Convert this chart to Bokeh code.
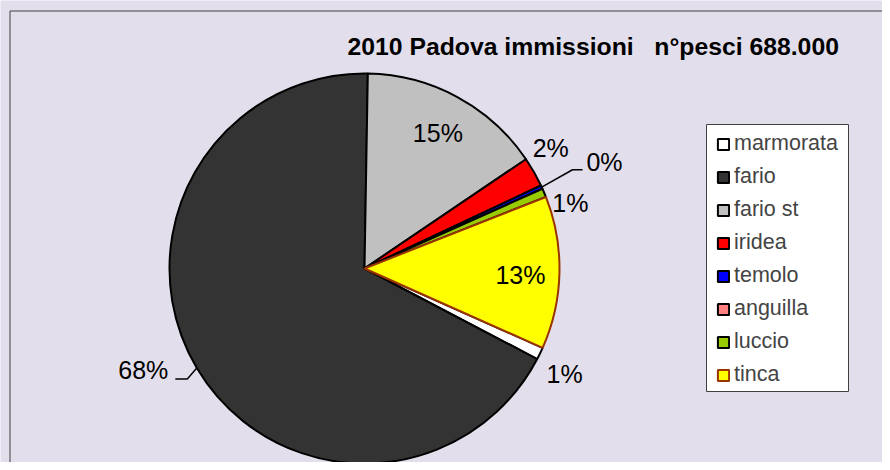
import math
from bokeh.plotting import figure
from bokeh.models import Range1d, Legend, LegendItem, Label, BoxAnnotation
from bokeh.embed import file_html
from bokeh.resources import INLINE

# ---- data ----
species = ["marmorata", "fario", "fario st", "iridea", "temolo", "anguilla", "luccio", "tinca"]
counts = [7000, 465000, 105000, 17000, 2000, 0, 5000, 87000]
title_text = "2010 Padova immissioni\u00a0\u00a0\u00a0n°pesci 688.000"

# ---- style ----
fill_colors = ["#FFFFFF", "#333333", "#C0C0C0", "#FF0000", "#0000FF", "#FF8080", "#99CC00", "#FFFF00"]
line_colors = ["#000000"] * 7 + ["#993300"]
FIRST_SLICE_DEG = 114.0  # clockwise from 12 o'clock
BG = "#E3DEEB"
FONT = "Liberation Sans"

# label placement: (radius factor, nudge x px, nudge y px (down))
label_style = {
    "marmorata": (1.14, 0, 9),
    "fario": (1.14, -30, -12),
    "fario st": (0.79, 0, 0),
    "iridea": (1.14, -7, -11),
    "temolo": (1.14, 38, -14),
    "luccio": (1.14, 1, 21),
    "tinca": (0.80, 0, 3),
}
# leader lines: (elbow dx, end dx, dy down) relative to label centre
leader_style = {
    "temolo": (-32, -22, 8),
    "fario": (44, 32, 9),
}

W, H = 882, 462
CX, CY, R = 364.0, 194.0, 195.0

p = figure(width=W, height=H, output_backend="svg", toolbar_location=None,
           x_range=Range1d(0, W), y_range=Range1d(0, H),
           x_axis_location=None, y_axis_location=None, min_border=0,
           background_fill_color=BG, border_fill_color=BG, outline_line_color=None)
p.grid.visible = False

total = float(sum(counts))
cum = 0.0
renderers = []
lab_x, lab_y, lab_t = [], [], []
lead_xs, lead_ys = [], []
for name, v, fc, lc in zip(species, counts, fill_colors, line_colors):
    t1 = FIRST_SLICE_DEG + cum / total * 360.0
    cum += v
    t2 = FIRST_SLICE_DEG + cum / total * 360.0
    start = math.radians(90.0 - t2)
    end = math.radians(90.0 - t1)
    r = p.wedge(x=[CX], y=[CY], radius=R if v > 0 else 0.0,
                start_angle=start, end_angle=end if v > 0 else start + 1e-6,
                fill_color=fc, line_color=lc, line_width=2)
    renderers.append(r)
    if v > 0:
        tm = math.radians((t1 + t2) / 2.0)
        k, nx, ny = label_style[name]
        lx = CX + k * R * math.sin(tm) + nx
        ly = CY + k * R * math.cos(tm) - ny
        lab_x.append(lx)
        lab_y.append(ly)
        lab_t.append("%d%%" % round(v / total * 100))
        if name in leader_style:
            ex, en, dy = leader_style[name]
            px0 = CX + R * math.sin(tm)
            py0 = CY + R * math.cos(tm)
            lead_xs.append([px0, lx + ex, lx + en])
            lead_ys.append([py0, ly - dy, ly - dy])

p.multi_line(xs=lead_xs, ys=lead_ys, line_color="black", line_width=1.5)
p.text(x=lab_x, y=lab_y, text=lab_t, text_align="center", text_baseline="middle",
       text_font_size="25px", text_color="black", text_font={"value": FONT})

# frame border (left and top)
p.segment(x0=[9.5, 9.5], y0=[0, 451.5], x1=[9.5, W], y1=[451.5, 451.5],
          line_color="#404040", line_width=1)

p.add_layout(Label(x=347, y=416.3, text=title_text, text_font=FONT, text_font_size="24.75px",
                   text_font_style="bold", text_color="black", text_baseline="alphabetic"))

# legend box
p.add_layout(BoxAnnotation(left=706, right=848, top=H - 124, bottom=H - 391,
                           fill_color="white", fill_alpha=1.0,
                           line_color="#404040", line_width=1, line_alpha=1.0))

legend = Legend(items=[LegendItem(label=n, renderers=[r]) for n, r in zip(species, renderers)],
                location=(716, 75), background_fill_alpha=0.0, border_line_color=None,
                label_text_font=FONT, label_text_font_size="21.5px",
                glyph_width=14, glyph_height=14, label_height=20, spacing=8,
                padding=0, margin=0, label_standoff=4)
p.add_layout(legend)

open("out.html", "w").write(file_html(p, INLINE))
